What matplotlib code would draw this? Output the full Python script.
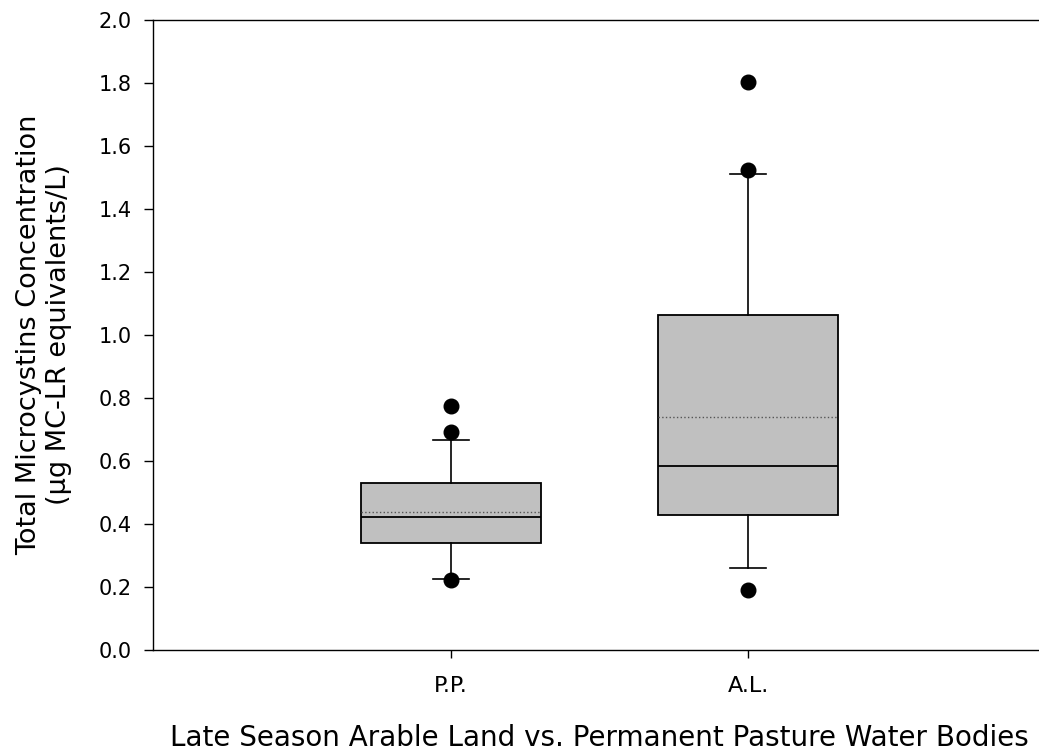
import numpy as np
import matplotlib
matplotlib.use('Agg')
import matplotlib.pyplot as plt

plt.rcParams['font.family'] = ['DejaVu Sans']

# box statistics
groups = ['P.P.', 'A.L.']
q1 = [0.341, 0.430]
medians = [0.421, 0.584]
q3 = [0.530, 1.064]
means = [0.437, 0.741]
whislo = [0.225, 0.259]
whishi = [0.667, 1.510]
outliers = [[0.775, 0.693, 0.222], [1.802, 1.524, 0.192]]

stats = []
for i in range(len(groups)):
    stats.append({'label': groups[i], 'q1': q1[i], 'med': medians[i], 'q3': q3[i],
                  'mean': means[i], 'whislo': whislo[i], 'whishi': whishi[i],
                  'fliers': outliers[i]})

fig = plt.figure(figsize=(10.39, 7.53), dpi=100)
ax = fig.add_axes([153 / 1039, 103 / 753, 893 / 1039, 630 / 753])

ax.bxp(stats, positions=[1, 2], widths=0.604, patch_artist=True,
       showmeans=True, meanline=True, capwidths=0.121,
       boxprops=dict(facecolor='#c0c0c0', edgecolor='black', linewidth=1.3),
       medianprops=dict(color='black', linewidth=1.3),
       meanprops=dict(color='#555555', linestyle=':', linewidth=1.0),
       whiskerprops=dict(color='black', linewidth=1.2),
       capprops=dict(color='black', linewidth=1.2),
       flierprops=dict(marker='o', markerfacecolor='black', markeredgecolor='black',
                       markersize=10.5))

ax.set_xlim(0, 3)
ax.set_ylim(0, 2.0)
ax.set_yticks(np.arange(0, 2.01, 0.2))
ax.set_yticklabels(['%.1f' % v for v in np.arange(0, 2.01, 0.2)])
ax.spines['right'].set_visible(False)
for s in ['left', 'top', 'bottom']:
    ax.spines[s].set_linewidth(1.0)

ax.tick_params(axis='y', length=6.5, width=1.0, pad=9, labelsize=15)
ax.tick_params(axis='x', length=6, width=1.0, pad=13, labelsize=16)

ax.set_ylabel('Total Microcystins Concentration\n(µg MC-LR equivalents/L)', fontsize=19.5, labelpad=19)
ax.set_xlabel('Late Season Arable Land vs. Permanent Pasture Water Bodies', fontsize=20, labelpad=20)

fig.savefig('out.png', dpi=100)
